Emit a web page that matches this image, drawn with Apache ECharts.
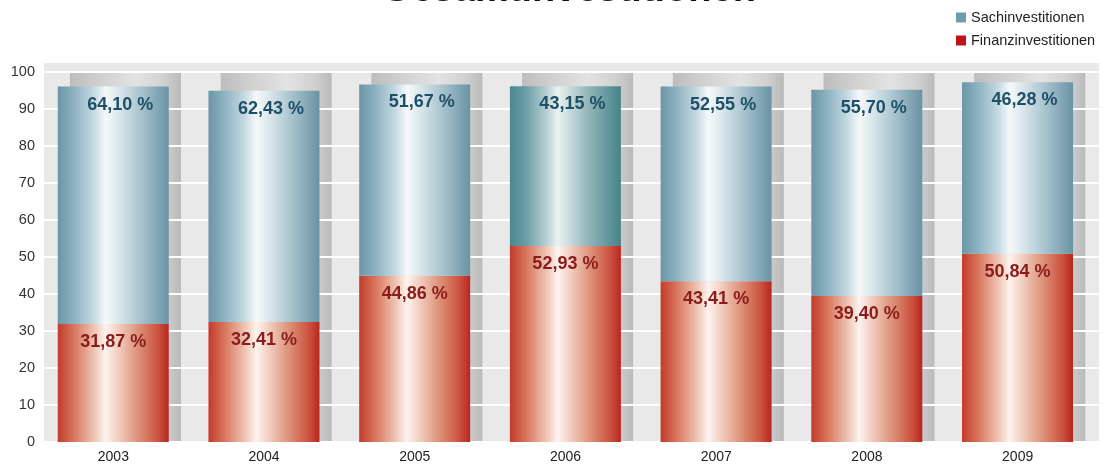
<!DOCTYPE html>
<html>
<head>
<meta charset="utf-8">
<script src="https://cdn.jsdelivr.net/npm/echarts@6/dist/echarts.min.js"></script>
<style>
html,body{margin:0;padding:0;background:#fff;}
#chart{width:1104px;height:464px;}
</style>
</head>
<body>
<div id="chart"></div>
<script>
const categories = ['2003', '2004', '2005', '2006', '2007', '2008', '2009'];
const sachinvestitionen = [64.10, 62.43, 51.67, 43.15, 52.55, 55.70, 46.28];
const finanzinvestitionen = [31.87, 32.41, 44.86, 52.93, 43.41, 39.40, 50.84];
const backdrop = [100, 100, 100, 100, 100, 100, 100];
const yTickLabels = ['0', '10', '20', '30', '40', '50', '60', '70', '80', '90', '100'];

const FONT = "'Liberation Sans', Arial, sans-serif";

function grad(stops) {
  return { type: 'linear', x: 0, y: 0, x2: 1, y2: 0,
    colorStops: stops.map(s => ({ offset: s[0], color: s[1] })) };
}
const blueGrad = grad([[0,'#6b96a7'],[0.15,'#8fb3c2'],[0.33,'#c6dbe3'],[0.43,'#f6f9fa'],[0.5,'#e6eff2'],[0.7,'#b3ccd6'],[0.9,'#82a6b5'],[1,'#6a93a5']]);
const tealGrad = grad([[0,'#4b8690'],[0.15,'#6c9fa6'],[0.33,'#b8d0d3'],[0.43,'#eaf1f2'],[0.5,'#d5e3e5'],[0.7,'#94b7bb'],[0.9,'#5f949b'],[1,'#4a808a']]);
const redGrad = grad([[0,'#c23a2a'],[0.15,'#d8785f'],[0.33,'#efc5b4'],[0.43,'#fdf3ee'],[0.52,'#f4d6c9'],[0.72,'#de937a'],[0.9,'#cb5441'],[1,'#b8261f']]);
const greyGrad = grad([[0,'#bdbdbd'],[0.3,'#d2d2d2'],[0.6,'#e3e3e3'],[0.85,'#d0d0d0'],[1,'#bababa']]);

function fmt(v) { return v.toFixed(2).replace('.', ',') + ' %'; }

const chart = echarts.init(document.getElementById('chart'));
chart.setOption({
  animation: false,
  title: {
    text: 'Gesamtinvestitionen',
    left: 569, top: -28, padding: 0,
    textAlign: 'center',
    textStyle: { fontFamily: FONT, fontSize: 38, fontWeight: 'bold', color: '#111' }
  },
  legend: {
    orient: 'vertical',
    left: 956, top: 10, padding: 0,
    itemWidth: 10, itemHeight: 10, itemGap: 8,
    icon: 'rect',
    textStyle: { fontFamily: FONT, fontSize: 14.5, color: '#222' },
    data: [
      { name: 'Sachinvestitionen', itemStyle: { color: '#6f9cad' } },
      { name: 'Finanzinvestitionen', itemStyle: { color: '#c1121c' } }
    ]
  },
  grid: {
    left: 44, right: 5, top: 62, bottom: 22,
    show: true, backgroundColor: '#e9e9e9', borderWidth: 0, z: 0
  },
  xAxis: {
    type: 'category',
    data: categories,
    axisLine: { show: false },
    axisTick: { show: false },
    axisLabel: { fontFamily: FONT, fontSize: 14, color: '#222', margin: 8, padding: [0, 12, 0, 0] }
  },
  yAxis: {
    type: 'value',
    min: 0, max: 102.6, interval: 10,
    z: 2,
    axisLine: { show: false },
    axisTick: { show: false },
    axisLabel: {
      fontFamily: FONT, fontSize: 14.5, color: '#333', margin: 9,
      showMaxLabel: false,
      formatter: function (v) { const i = Math.round(v / 10); return yTickLabels[i] !== undefined && Math.abs(v - i * 10) < 1e-6 ? yTickLabels[i] : ''; }
    },
    splitLine: { show: true, lineStyle: { color: '#ffffff', width: 2 } }
  },
  series: [
    {
      name: 'Finanzinvestitionen',
      type: 'bar', stack: 'total', z: 3,
      barWidth: 111, barGap: '-89%',
      data: finanzinvestitionen,
      itemStyle: { color: redGrad },
      label: {
        show: true, position: 'insideTop', distance: 9,
        fontFamily: FONT, fontSize: 18, fontWeight: 'bold', color: '#8c1c1c',
        formatter: p => fmt(p.value)
      }
    },
    {
      name: 'Sachinvestitionen',
      type: 'bar', stack: 'total', z: 3,
      barWidth: 111, barGap: '-89%',
      data: sachinvestitionen.map((v, i) => i === 3 ? { value: v, itemStyle: { color: tealGrad } } : v),
      itemStyle: { color: blueGrad },
      label: {
        show: true, position: 'insideTop', distance: 9, offset: [7, 0],
        fontFamily: FONT, fontSize: 18, fontWeight: 'bold', color: '#1f5068',
        formatter: p => fmt(p.value)
      }
    },
    {
      name: 'backdrop',
      type: 'bar', z: 1,
      barWidth: 111, barGap: '-89%',
      data: backdrop,
      itemStyle: { color: greyGrad },
      silent: true,
      label: { show: false }
    }
  ]
});
</script>
</body>
</html>
